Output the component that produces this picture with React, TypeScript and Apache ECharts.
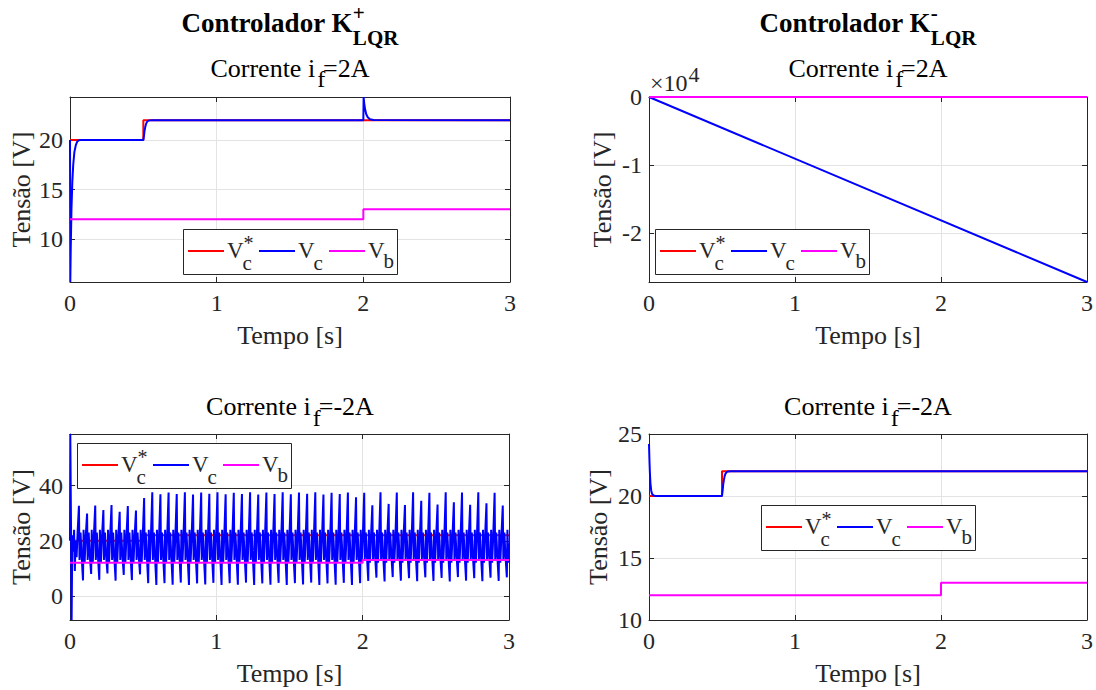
import React, { useEffect, useRef } from 'react';
import * as echarts from 'echarts';

const FONT = "'Liberation Serif', 'Times New Roman', Times, serif";
const AXIS_COLOR = '#262626';
const GRID_LINE = '#e3e3e3';
const RED = '#ff0000';
const BLUE = '#0000ff';
const MAGENTA = '#ff00ff';

// Reference voltage Vc* and battery voltage Vb (step profiles, shared by all cases)
const refT = [0, 0.5, 0.5, 3];
const refV = [20, 20, 22, 22];
const vbT = [0, 2, 2, 3];
const vbV = [12, 12, 13, 13];

// K+ controller, i_f = 2 A
const kpPosT = [0, 0.002, 0.005, 0.01, 0.016, 0.022, 0.03, 0.04, 0.05, 0.065, 0.5, 0.504, 0.508, 0.513, 0.518, 0.524, 0.532, 0.542, 0.56, 2.0, 2.002, 2.006, 2.012, 2.02, 2.03, 2.045, 2.07, 3];
const kpPosV = [20, 5.66, 9, 13, 15.8, 17.5, 18.8, 19.5, 19.85, 20, 20, 20.4, 20.9, 21.3, 21.6, 21.8, 21.93, 21.98, 22, 22, 24.34, 23.7, 23.1, 22.6, 22.3, 22.1, 22.02, 22];

// K- controller, i_f = 2 A (capacitor voltage diverges)
const kmPosT = [0, 3];
const kmPosV = [20, -27200];

// K+ controller, i_f = -2 A (sustained oscillation)
const kpNegStartT = [0, 0.002, 0.007, 0.011, 0.016, 0.022, 0.028, 0.033, 0.038, 0.045, 0.052];
const kpNegStartV = [20, 58.8, 25, -8.8, 22, 16, 24, 9, 20, 14, 23];
const kpNegPeriod = 0.0557;
const kpNegFirstPeak = 0.061;
const kpNegPeaks = [
  32.7, 29.9, 32.8, 31.2, 33.0, 30.5, 32.6, 31.0,
  35.5,
  37.6, 36.9, 37.5, 37.0, 37.6, 36.8, 37.5, 37.1, 37.6, 36.9, 37.4, 37.0, 37.6,
  36.8, 37.5, 37.0, 37.6, 36.9, 37.5, 37.1, 37.6, 36.8, 37.4, 37.0, 37.5, 35.8,
  37.4, 32.9, 37.6, 33.4, 37.5, 33.0, 37.6, 34.5, 37.4, 33.2, 37.6, 34.0, 37.5,
  33.1, 37.6, 33.6, 37.4, 32.8,
];
const kpNegTroughs = [
  5.6, 7.9, 5.8, 8.1, 5.5, 7.6, 5.7, 7.8,
  4.6,
  3.9, 4.6, 4.0, 4.8, 3.9, 4.5, 4.1, 4.7, 3.9, 4.6, 4.0, 4.8, 3.9,
  4.5, 4.0, 4.7, 3.9, 4.6, 4.1, 4.8, 3.9, 4.5, 4.0, 4.7, 3.9, 4.6,
  5.4, 6.6, 5.2, 6.8, 5.5, 6.4, 5.3, 6.7, 5.4, 6.5, 5.2, 6.8, 5.5,
  6.4, 5.3, 6.6, 5.4, 6.7,
];
// levels visited between the spikes of each cycle
const kpNegBetween = [13, 23, 15, 24, 12, 21];
const kpNegBetweenDt = [0.004, 0.011, 0.018];
const kpNegEndV = 19;

// K- controller, i_f = -2 A
const kmNegT = [0, 0.003, 0.006, 0.01, 0.015, 0.02, 0.03, 0.045, 0.5, 0.504, 0.508, 0.513, 0.518, 0.524, 0.532, 0.542, 0.56, 3];
const kmNegV = [24.2, 22.9, 21.9, 21.0, 20.45, 20.2, 20.05, 20, 20, 20.4, 20.9, 21.3, 21.6, 21.8, 21.93, 21.98, 22, 22];

const X_MIN = 0;
const X_MAX = 3;
const X_STEP = 1;

const GRID_RECTS = [
  { left: 70, top: 97, width: 440, height: 185 },
  { left: 649, top: 97, width: 438, height: 185 },
  { left: 70, top: 434, width: 439, height: 186 },
  { left: 649, top: 434, width: 438, height: 186 },
];

const TICK_FONT = 24;
const NAME_FONT = 26;

const zip = (ts: number[], vs: number[]) => ts.map((t, i) => [t, vs[i]]);

function buildOscillation(): number[][] {
  const pts = zip(kpNegStartT, kpNegStartV);
  kpNegPeaks.forEach((pk, k) => {
    const tp = kpNegFirstPeak + k * kpNegPeriod;
    const tt = tp + kpNegPeriod / 2;
    const [d0, d1, d2] = kpNegBetweenDt;
    const [b0, b1, b2, b3, b4, b5] = kpNegBetween;
    const seq = [
      [tp, pk], [tp + d0, b0], [tp + d1, b1], [tp + d2, b2],
      [tt, kpNegTroughs[k]], [tt + d0, b3], [tt + d1, b4], [tt + d2, b5],
    ];
    seq.forEach((p) => { if (p[0] < X_MAX) pts.push(p); });
  });
  pts.push([X_MAX, kpNegEndV]);
  return pts;
}

const measureCanvas = typeof document !== 'undefined' ? document.createElement('canvas') : null;
function tw(text: string, size: number, bold = false): number {
  const ctx = measureCanvas ? measureCanvas.getContext('2d') : null;
  if (!ctx) return text.length * size * 0.5;
  ctx.font = `${bold ? 'bold ' : ''}${size}px ${FONT}`;
  return ctx.measureText(text).width;
}

function txt(text: string, x: number, y: number, size: number, opts: any = {}) {
  return {
    type: 'text',
    x,
    y,
    z: 100,
    silent: true,
    style: {
      text,
      fontSize: size,
      fontFamily: FONT,
      fontWeight: opts.bold ? 'bold' : 'normal',
      fill: opts.color || '#000000',
      align: opts.align || 'left',
      textAlign: opts.align || 'left',
      verticalAlign: 'middle',
      textVerticalAlign: 'middle',
    },
  };
}

function titleGraphic(cx: number, sign: string, supY: number) {
  const main = 'Controlador K';
  const wMain = tw(main, 27, true);
  const wSub = tw('LQR', 21, true);
  const wSup = tw(sign, 21, true);
  const left = cx - (wMain + Math.max(wSub, wSup)) / 2;
  return [
    txt(main, left, 23, 27, { bold: true }),
    txt(sign, left + wMain, supY, 21, { bold: true }),
    txt('LQR', left + wMain, 37.5, 21, { bold: true }),
  ];
}

function subtitleGraphic(cx: number, cy: number, value: string) {
  const a = 'Corrente i';
  const c = `=${value}A`;
  const wa = tw(a, 26);
  const wf = tw('f', 24);
  const wc = tw(c, 26);
  const left = cx - (wa + wf + wc) / 2;
  return [
    txt(a, left, cy, 26),
    txt('f', left + wa + 2, cy + 11, 24),
    txt(c, left + wa + wf, cy, 26),
  ];
}

function legendGraphic(x: number, y: number) {
  const entries = [
    { color: RED, lx: 5, sub: 'c', sup: '*' },
    { color: BLUE, lx: 76, sub: 'c', sup: '' },
    { color: MAGENTA, lx: 146, sub: 'b', sup: '' },
  ];
  const children: any[] = [
    {
      type: 'rect',
      z: 100,
      silent: true,
      shape: { x: 0.5, y: 0.5, width: 214, height: 45 },
      style: { fill: '#ffffff', stroke: AXIS_COLOR, lineWidth: 1 },
    },
  ];
  const wV = tw('V', 23);
  entries.forEach((e) => {
    children.push({
      type: 'line',
      z: 101,
      silent: true,
      shape: { x1: e.lx, y1: 22, x2: e.lx + 36, y2: 22 },
      style: { stroke: e.color, lineWidth: 2 },
    });
    const vx = e.lx + 39;
    children.push(txt('V', vx, 21, 23, { color: AXIS_COLOR }));
    if (e.sup) children.push(txt(e.sup, vx + wV, 14, 20, { color: AXIS_COLOR }));
    children.push(txt(e.sub, vx + wV - 1, e.sub === 'b' ? 32 : 34, 21, { color: AXIS_COLOR }));
  });
  children.forEach((ch) => { ch.z = Math.max(ch.z || 100, 100); });
  return { type: 'group', x, y, z: 100, children };
}

function isMultiple(v: number, step: number) {
  return Math.abs(v / step - Math.round(v / step)) < 1e-6;
}

const lineStyle = { color: AXIS_COLOR, width: 1 };

function xAxesFor(g: number) {
  const base = {
    type: 'value',
    gridIndex: g,
    min: X_MIN,
    max: X_MAX,
    interval: X_STEP,
    axisLine: { show: true, onZero: false, lineStyle },
    axisTick: { show: true, inside: true, length: 5, lineStyle },
  };
  return [
    {
      ...base,
      position: 'bottom',
      axisLabel: { show: true, fontSize: TICK_FONT, fontFamily: FONT, color: AXIS_COLOR, margin: 9 },
      splitLine: { show: true, lineStyle: { color: GRID_LINE, width: 1 } },
      name: 'Tempo [s]',
      nameLocation: 'middle',
      nameGap: 40,
      nameTextStyle: { fontSize: NAME_FONT, fontFamily: FONT, color: AXIS_COLOR },
    },
    {
      ...base,
      position: 'top',
      axisLabel: { show: false },
      splitLine: { show: false },
    },
  ];
}

function yAxesFor(g: number, min: number, max: number, step: number, nameGap: number, scale = 1) {
  const base = {
    type: 'value',
    gridIndex: g,
    min,
    max,
    minInterval: step,
    maxInterval: step,
    axisLine: { show: true, onZero: false, lineStyle },
    axisTick: { show: true, inside: true, length: 5, lineStyle },
  };
  return [
    {
      ...base,
      position: 'left',
      axisLabel: {
        show: true,
        fontSize: TICK_FONT,
        fontFamily: FONT,
        color: AXIS_COLOR,
        margin: 7,
        showMinLabel: true,
        showMaxLabel: true,
        formatter: (v: number) => (isMultiple(v, step) ? String(Math.round(v / scale)) : ''),
      },
      splitLine: { show: true, lineStyle: { color: GRID_LINE, width: 1 } },
      name: 'Tensão [V]',
      nameLocation: 'middle',
      nameRotate: 90,
      nameGap,
      nameTextStyle: { fontSize: NAME_FONT, fontFamily: FONT, color: AXIS_COLOR },
    },
    {
      ...base,
      position: 'right',
      axisLabel: { show: false },
      splitLine: { show: false },
    },
  ];
}

function seriesFor(g: number, vc: number[][]) {
  const mk = (name: string, data: number[][], color: string) => ({
    name,
    type: 'line',
    xAxisIndex: 2 * g,
    yAxisIndex: 2 * g,
    data,
    showSymbol: false,
    symbol: 'none',
    silent: true,
    lineStyle: { color, width: 2 },
    itemStyle: { color },
  });
  return [
    mk('Vc*', zip(refT, refV), RED),
    mk('Vc', vc, BLUE),
    mk('Vb', zip(vbT, vbV), MAGENTA),
  ];
}

function extentOf(...sets: number[][][]) {
  let lo = Infinity;
  let hi = -Infinity;
  sets.forEach((s) => s.forEach((p) => { lo = Math.min(lo, p[1]); hi = Math.max(hi, p[1]); }));
  return [lo, hi];
}

export default function App() {
  const ref = useRef<HTMLDivElement | null>(null);

  useEffect(() => {
    if (!ref.current) return;
    const chart = echarts.init(ref.current, null, { renderer: 'svg' });

    const refPts = zip(refT, refV);
    const vbPts = zip(vbT, vbV);
    const vcTL = zip(kpPosT, kpPosV);
    const vcTR = zip(kmPosT, kmPosV);
    const vcBL = buildOscillation();
    const vcBR = zip(kmNegT, kmNegV);

    const [tlMin, tlMax] = extentOf(vcTL, refPts, vbPts);
    const [trMin, trMax] = extentOf(vcTR, refPts, vbPts);
    const [blMin, blMax] = extentOf(vcBL, refPts, vbPts);

    const wTimes = tw('×10', 24);

    const option: any = {
      animation: false,
      backgroundColor: '#ffffff',
      textStyle: { fontFamily: FONT },
      grid: GRID_RECTS.map((r) => ({ ...r, containLabel: false, outerBoundsMode: 'none', show: false })),
      xAxis: [...xAxesFor(0), ...xAxesFor(1), ...xAxesFor(2), ...xAxesFor(3)],
      yAxis: [
        ...yAxesFor(0, tlMin, tlMax, 5, 36),
        ...yAxesFor(1, trMin, trMax, 10000, 34, 10000),
        ...yAxesFor(2, blMin, blMax, 20, 36),
        ...yAxesFor(3, 10, 25, 5, 38),
      ],
      series: [
        ...seriesFor(0, vcTL),
        ...seriesFor(1, vcTR),
        ...seriesFor(2, vcBL),
        ...seriesFor(3, vcBR),
      ],
      graphic: [
        ...titleGraphic(290, '+', 12.5),
        ...titleGraphic(868, '-', 13),
        ...subtitleGraphic(290, 68, '2'),
        ...subtitleGraphic(868, 68, '2'),
        ...subtitleGraphic(290, 406.5, '-2'),
        ...subtitleGraphic(868, 406.5, '-2'),
        txt('×10', 650, 83, 24, { color: AXIS_COLOR }),
        txt('4', 650 + wTimes + 1, 74, 22, { color: AXIS_COLOR }),
        legendGraphic(183, 229),
        legendGraphic(655, 229),
        legendGraphic(77, 443),
        legendGraphic(761, 505),
      ],
    };

    chart.setOption(option);
    return () => chart.dispose();
  }, []);

  return (
    <div
      ref={ref}
      style={{ position: 'absolute', left: 0, top: 0, width: 1096, height: 690, background: '#ffffff' }}
    />
  );
}
